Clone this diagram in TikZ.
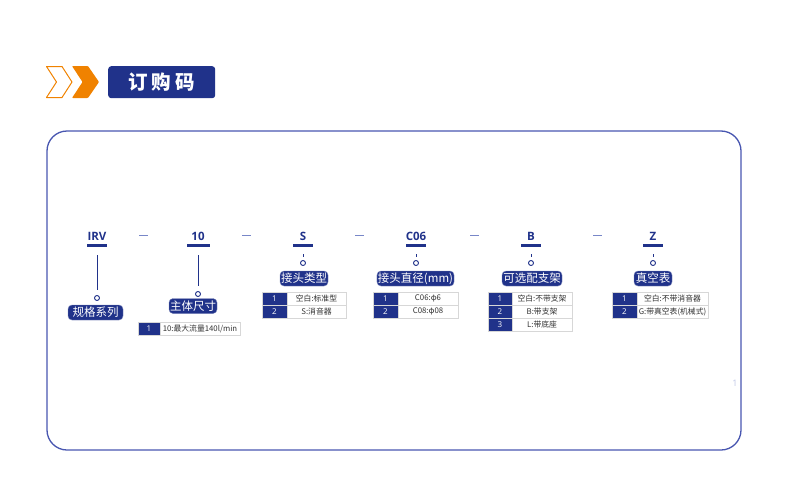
\documentclass[tikz,border=0pt]{standalone}
\usepackage{fontspec}
\setmainfont{Noto Sans CJK SC}
\newfontfamily\codefont{Open Sans}
\definecolor{navy}{RGB}{32,50,138}
\definecolor{orng}{RGB}{240,130,0}
\definecolor{framec}{RGB}{72,86,176}
\definecolor{dashc}{RGB}{120,135,200}
\definecolor{cellb}{RGB}{215,215,215}
\definecolor{celltxt}{RGB}{50,50,50}
\definecolor{pgnum}{RGB}{190,198,230}
\tikzset{
  codetxt/.style={text=navy, font=\codefont\bfseries\fontsize{11.5}{12}\selectfont, inner sep=0},
  uline/.style={fill=navy, inner sep=0, minimum height=2.5pt, minimum width=20pt},
  dashbar/.style={fill=dashc, inner sep=0, minimum height=1.4pt, minimum width=9pt},
  pin/.style={circle, draw=navy, fill=white, line width=0.9pt, minimum size=5pt, inner sep=0},
  conn/.style={draw=navy, line width=0.8pt},
  lab/.style={fill=navy, draw=navy!60, line width=0.4pt, rounded corners=4pt, text=white, font=\fontsize{11.5}{12}\selectfont, minimum height=15pt, inner sep=1pt},
  numcell/.style={fill=navy, draw=cellb, line width=0.6pt, text=white, font=\codefont\fontsize{8}{9}\selectfont, minimum height=13pt, inner sep=0, outer sep=0},
  txtcell/.style={fill=white, draw=cellb, line width=0.6pt, text=celltxt, font=\fontsize{7.8}{9}\selectfont, minimum height=13pt, inner sep=0, outer sep=0},
}
\newcommand\trow[7]{%
  \node[numcell, minimum width=#4, anchor=north west] (#1n) at (#2,#3) {#6};
  \node[txtcell, minimum width=#5, anchor=north west] (#1t) at (#1n.north east) {#7};
}
\begin{document}
\begin{tikzpicture}[x=1pt,y=-1pt]
\useasboundingbox (0,0) rectangle (790,498);
% header
\draw[orng, line width=1pt, line join=round] (46.5,66.5) -- (62,66.5) -- (72,82) -- (62,97.5) -- (46.5,97.5) -- (56.5,82) -- cycle;
\fill[orng, rounded corners=0.8pt] (72,66) -- (88,66) -- (99,82) -- (88,98) -- (72,98) -- (82.5,82) -- cycle;
\node[fill=navy, rounded corners=3pt, minimum width=107pt, minimum height=32pt, anchor=north west, inner sep=0, text=white, font=\bfseries\fontsize{19.5}{20}\selectfont] (title) at (108,66) {订\hspace{4pt}购\hspace{4pt}码};
% frame
\draw[framec, line width=1.3pt, rounded corners=20pt] (47,131) rectangle (741,450);
% codes
\node[codetxt] (c1) at (97,236) {IRV};
\node[codetxt] (c2) at (198,236) {10};
\node[codetxt] (c3) at (303,236) {S};
\node[codetxt] (c4) at (416,236) {C06};
\node[codetxt] (c5) at (531,236) {B};
\node[codetxt] (c6) at (653,236) {Z};
\node[uline] (u1) at (97,245.5) {};
\node[uline, minimum width=23pt] (u2) at (198,245.5) {};
\node[uline] (u3) at (303,245.5) {};
\node[uline] (u4) at (416,245.5) {};
\node[uline] (u5) at (531,245.5) {};
\node[uline] (u6) at (653,245.5) {};
\node[dashbar] (d1) at (143.5,235.5) {};
\node[dashbar] (d2) at (246.5,235.5) {};
\node[dashbar] (d3) at (359,235.5) {};
\node[dashbar] (d4) at (474,235.5) {};
\node[dashbar] (d5) at (597,235.5) {};
% pins
\node[pin] (p1) at (97,298) {};
\node[pin] (p2) at (198,294) {};
\node[pin] (p3) at (303,263) {};
\node[pin] (p4) at (416,263) {};
\node[pin] (p5) at (531,263) {};
\node[pin] (p6) at (653,263) {};
\coordinate (e1) at (97,290);
\coordinate (e2) at (198,286);
\draw[conn] ([yshift=-8.5pt]u1.south) -- (e1);
\draw[conn] ([yshift=-8.5pt]u2.south) -- (e2);
\draw[conn] ([yshift=-7.5pt]u3.south) -- ([yshift=3.5pt]p3.north);
\draw[conn] ([yshift=-7.5pt]u4.south) -- ([yshift=3.5pt]p4.north);
\draw[conn] ([yshift=-7.5pt]u5.south) -- ([yshift=3.5pt]p5.north);
\draw[conn] ([yshift=-7.5pt]u6.south) -- ([yshift=3.5pt]p6.north);
% labels
\node[lab, minimum width=55pt] (l1) at (95.5,312.5) {规格系列};
\node[lab, minimum width=47pt] (l2) at (193,306) {主体尺寸};
\node[lab, minimum width=47pt] (l3) at (304,278.5) {接头类型};
\node[lab, minimum width=73pt] (l4) at (415.5,278.5) {接头直径(mm)};
\node[lab, minimum width=60pt] (l5) at (532,278.5) {可选配支架};
\node[lab, minimum width=38pt] (l6) at (653,278.5) {真空表};
% tables
\trow{ta}{138}{322}{22}{80}{1}{10:最大流量140l/min}
\trow{tb}{262}{292}{25}{59}{1}{空白:标准型}
\trow{tc}{262}{305}{25}{59}{2}{S:消音器}
\trow{td}{373}{292}{25}{60}{1}{C06:φ6}
\trow{te}{373}{305}{25}{60}{2}{C08:φ08}
\trow{tf}{488}{292}{24}{60}{1}{空白:不带支架}
\trow{tg}{488}{305}{24}{60}{2}{B:带支架}
\trow{th}{488}{318}{24}{60}{3}{L:带底座}
\trow{ti}{612}{292}{25}{71}{1}{空白:不带消音器}
\trow{tj}{612}{305}{25}{71}{2}{G:带真空表(机械式)}
% page number
\node[text=pgnum, font=\codefont\fontsize{9}{10}\selectfont, inner sep=0] (pg) at (735,383) {1};
\end{tikzpicture}
\end{document}
